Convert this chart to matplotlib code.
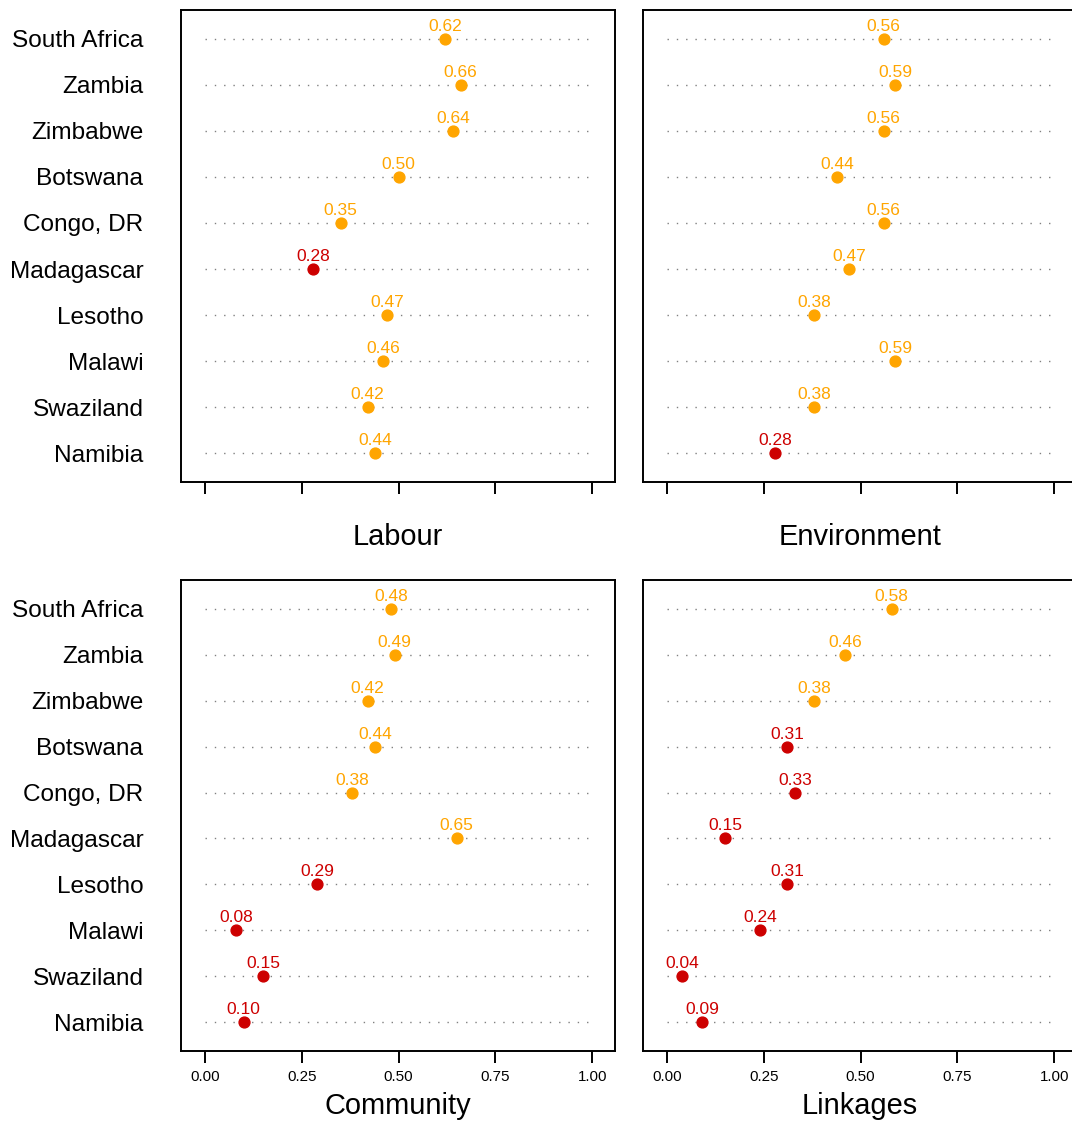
import matplotlib.pyplot as plt

plt.rcParams['font.family'] = ['Liberation Sans', 'DejaVu Sans']

countries = ["South Africa", "Zambia", "Zimbabwe", "Botswana", "Congo, DR",
             "Madagascar", "Lesotho", "Malawi", "Swaziland", "Namibia"]

labour = [0.62, 0.66, 0.64, 0.50, 0.35, 0.28, 0.47, 0.46, 0.42, 0.44]
environment = [0.56, 0.59, 0.56, 0.44, 0.56, 0.47, 0.38, 0.59, 0.38, 0.28]
community = [0.48, 0.49, 0.42, 0.44, 0.38, 0.65, 0.29, 0.08, 0.15, 0.10]
linkages = [0.58, 0.46, 0.38, 0.31, 0.33, 0.15, 0.31, 0.24, 0.04, 0.09]

titles = ["Labour", "Environment", "Community", "Linkages"]
series = [labour, environment, community, linkages]
xticks = [0.0, 0.25, 0.5, 0.75, 1.0]
xticklabels = ["0.00", "0.25", "0.50", "0.75", "1.00"]

ORANGE = "#FFA500"
RED = "#CD0000"

W, H = 1072, 1124
fig = plt.figure(figsize=(W / 100, H / 100), dpi=100)

# panel boxes in pixels: (left, top, right, bottom)
boxes = [(181, 10, 615, 482), (643, 10, 1077, 482),
         (181, 580, 615, 1051), (643, 580, 1077, 1051)]

for i, (title, vals) in enumerate(zip(titles, series)):
    l, t, r, b = boxes[i]
    ax = fig.add_axes([l / W, 1 - b / H, (r - l) / W, (b - t) / H])
    ypos = list(range(len(countries)))
    for y, v in zip(ypos, vals):
        ax.plot([0, 1], [y, y], color="#808080", lw=1,
                linestyle=(0, (1, 5.7)), zorder=1)
        c = ORANGE if v >= 0.345 else RED
        ax.plot(v, y, "o", color=c, markersize=7.8, zorder=3)
        ax.annotate(f"{v:.2f}", xy=(v, y), xytext=(0, 8),
                    textcoords="offset pixels", ha="center", va="baseline",
                    color=c, fontsize=12.5)
    ax.set_xlim(-0.062, 1.059)
    ax.set_ylim(len(countries) - 1 + 0.63, -0.63)
    ax.set_xticks(xticks)
    if i >= 2:
        ax.set_xticklabels(xticklabels, fontsize=10.9)
    else:
        ax.set_xticklabels([])
    ax.tick_params(axis="x", direction="out", length=8.6, width=1.4, pad=5)
    ax.set_yticks(ypos)
    if i % 2 == 0:
        ax.set_yticklabels(countries, fontsize=17.6)
        ax.tick_params(axis="y", length=0, pad=27)
    else:
        ax.set_yticklabels([])
        ax.tick_params(axis="y", length=0)
    for s in ax.spines.values():
        s.set_linewidth(1.4)
    ax.annotate(title, xy=(0.5, 0), xycoords="axes fraction",
                xytext=(0, -55), textcoords="offset pixels",
                ha="center", va="center", fontsize=20.9)

fig.savefig("out.png", dpi=100)
